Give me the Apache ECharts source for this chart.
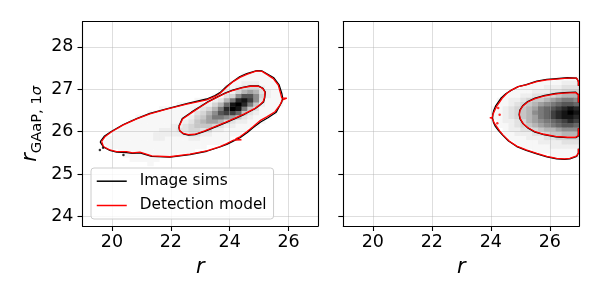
<!DOCTYPE html>
<html><head><meta charset="utf-8">
<script src="https://cdn.jsdelivr.net/npm/echarts@6/dist/echarts.min.js"></script>
<style>html,body{margin:0;padding:0;background:#fff}#c{width:600px;height:300px}</style>
</head><body><div id="c"></div>
<script>
const FONT = 'DejaVu Sans';
// ---- axes ----
const xTicks = [20, 22, 24, 26];
const yTicks = [24, 25, 26, 27, 28];
const xRange = [19, 27];
const yRange = [23.78, 28.59];

// ---- left panel density, hex levels 0..f ----
// columns: x centres 19.5 .. 25.9 step 0.2 ; each string: y centres 25.25 (first) .. 27.55 (last) step 0.1
const leftBinX0 = 19.4, leftBinY0 = 25.2, leftBinW = 0.2, leftBinH = 0.1;
const leftCols = [
"000000000000000000000000",
"000001000000000000000000",
"000011100000000000000000",
"000011110000000000000000",
"000111111000000000000000",
"001111111100000000000000",
"011111111110000000000000",
"011111111111000000000000",
"011111111111000000000000",
"111111111111100000000000",
"011111221111100000000000",
"001111222111110000000000",
"001111122111110000000000",
"001111122211110000000000",
"000111123211111000000000",
"000111123321111000000000",
"000111234432111000000000",
"000011234554321100000000",
"000011123565432100000000",
"000001124577642100000000",
"000001112479864210000000",
"000001112369b96311000000",
"000000111248cda632100000",
"000000011237cfe942110000",
"000000011125aefd84211000",
"00000000112359deb6321100",
"000000000112359cb7421100",
"000000000111235886421100",
"000000000011112343211100",
"000000000001111122111000",
"000000000000111111110000",
"000000000000001111000000",
"000000000000000000000000"
];

// ---- right panel density, hex levels 0..f ----
// rows: y centres 27.35 (first) .. 25.25 (last) step 0.1 ; each string: x centres 23.9 .. 26.9 step 0.2
const rightBinX0 = 23.8, rightBinYTop = 27.4, rightBinW = 0.2, rightBinH = 0.1;
const rightRows = [
"0000000000000000",
"0000000000001111",
"0000000011111222",
"0000001111222333",
"0000111122233444",
"0001112233445666",
"0011223455678998",
"001123456789abba",
"0112345679abcded",
"0112345689acdefe",
"0112345679acdeed",
"00122346789abcdc",
"001123456789abba",
"0001223345667888",
"0001122233455666",
"0000111222334444",
"0000011112222333",
"0000001111122222",
"0000000011111111",
"0000000000011111",
"0000000000000000",
"0000000000000000"
];

// ---- contours [r, r_GAaP] ----
const leftOuterModel = [[19.65,25.77],[19.76,25.88],[19.99,26.0],[20.39,26.16],[20.84,26.3],[21.29,26.42],[21.86,26.53],[22.54,26.65],[23.22,26.75],[23.5,26.83],[23.67,26.9],[23.9,27.05],[24.12,27.18],[24.35,27.28],[24.58,27.35],[24.92,27.43],[25.1,27.42],[25.26,27.35],[25.48,27.25],[25.65,27.1],[25.73,26.9],[25.77,26.79],[25.94,26.79],[25.78,26.74],[25.71,26.63],[25.54,26.47],[25.26,26.35],[25.03,26.26],[24.8,26.12],[24.58,26.0],[24.35,25.88],[24.2,25.83],[24.4,25.81],[24.12,25.8],[23.9,25.72],[23.67,25.65],[23.22,25.55],[22.65,25.47],[21.97,25.41],[21.35,25.43],[20.95,25.52],[20.7,25.5],[20.5,25.53],[20.16,25.53],[19.93,25.57],[19.71,25.65],[19.65,25.77]];
const leftOuterSims = [[19.6,25.76],[19.75,25.9],[19.99,26.01],[20.39,26.17],[20.84,26.31],[21.29,26.43],[21.86,26.54],[22.54,26.66],[23.22,26.77],[23.5,26.85],[23.67,26.92],[23.9,27.07],[24.12,27.19],[24.35,27.3],[24.58,27.37],[24.92,27.44],[25.1,27.43],[25.28,27.36],[25.5,27.27],[25.68,27.1],[25.77,26.9],[25.8,26.79],[25.77,26.7],[25.58,26.46],[25.3,26.33],[25.05,26.23],[24.8,26.1],[24.6,25.98],[24.35,25.86],[24.12,25.78],[23.9,25.7],[23.67,25.64],[23.22,25.54],[22.65,25.46],[21.97,25.4],[21.35,25.42],[20.95,25.5],[20.7,25.49],[20.5,25.51],[20.16,25.52],[19.93,25.56],[19.71,25.64],[19.6,25.76]];
const leftInnerModel = [[22.28,26.12],[22.4,26.3],[22.71,26.45],[23.0,26.58],[23.27,26.7],[23.55,26.8],[23.84,26.9],[24.1,26.97],[24.41,27.03],[24.7,27.07],[24.97,27.07],[25.12,27.02],[25.2,26.93],[25.18,26.8],[25.14,26.71],[25.0,26.62],[24.86,26.55],[24.5,26.42],[24.18,26.32],[23.85,26.22],[23.5,26.12],[23.15,26.02],[22.82,25.94],[22.6,25.93],[22.42,25.96],[22.3,26.03],[22.28,26.12]];
const leftInnerSims = [[22.27,26.12],[22.39,26.31],[22.7,26.46],[23.0,26.59],[23.27,26.71],[23.55,26.81],[23.84,26.91],[24.1,26.98],[24.41,27.04],[24.7,27.08],[24.97,27.08],[25.13,27.02],[25.21,26.93],[25.19,26.8],[25.15,26.7],[25.0,26.61],[24.86,26.54],[24.5,26.41],[24.18,26.31],[23.85,26.21],[23.5,26.11],[23.15,26.01],[22.82,25.93],[22.6,25.92],[22.42,25.95],[22.3,26.02],[22.27,26.12]];
const rightOuterModel = [[26.97,27.08],[26.97,27.18],[26.91,27.26],[26.6,27.26],[26.23,27.24],[25.9,27.22],[25.56,27.18],[25.2,27.1],[24.93,27.06],[24.7,26.98],[24.54,26.9],[24.4,26.8],[24.31,26.71],[24.2,26.6],[24.14,26.51],[24.08,26.42],[24.05,26.34],[23.97,26.33],[24.06,26.3],[24.12,26.2],[24.2,26.12],[24.3,26.02],[24.42,25.92],[24.62,25.78],[24.88,25.66],[25.2,25.57],[25.56,25.49],[25.9,25.42],[26.23,25.37],[26.5,25.36],[26.68,25.37],[26.91,25.43],[26.97,25.5],[26.97,25.6]];
const rightOuterSims = [[26.97,27.08],[26.97,27.18],[26.91,27.26],[26.6,27.27],[26.23,27.25],[25.9,27.23],[25.56,27.19],[25.2,27.11],[24.93,27.06],[24.7,26.98],[24.52,26.9],[24.36,26.8],[24.26,26.7],[24.16,26.6],[24.1,26.5],[24.07,26.42],[24.06,26.32],[24.09,26.22],[24.16,26.12],[24.27,26.02],[24.4,25.92],[24.6,25.78],[24.88,25.65],[25.2,25.56],[25.56,25.48],[25.9,25.41],[26.23,25.36],[26.5,25.35],[26.68,25.36],[26.91,25.42],[26.97,25.5],[26.97,25.6]];
const rightInnerModel = [[26.97,26.69],[26.97,26.87],[26.88,26.92],[26.5,26.91],[26.2,26.89],[25.8,26.84],[25.5,26.78],[25.25,26.7],[25.08,26.6],[24.99,26.5],[24.97,26.4],[25.0,26.3],[25.1,26.19],[25.25,26.1],[25.5,26.0],[25.8,25.94],[26.2,25.89],[26.6,25.87],[26.88,25.87],[26.97,25.91],[26.97,26.08]];
const rightInnerSims = [[26.97,26.69],[26.97,26.87],[26.88,26.93],[26.5,26.92],[26.2,26.9],[25.8,26.85],[25.5,26.79],[25.25,26.71],[25.08,26.61],[24.98,26.5],[24.96,26.4],[24.99,26.3],[25.09,26.19],[25.25,26.09],[25.5,25.99],[25.8,25.93],[26.2,25.88],[26.6,25.86],[26.88,25.86],[26.97,25.9],[26.97,26.08]];
const leftStraySims = [[19.59,25.57],[20.39,25.45],[19.7,25.62]];
const rightStrayModel = [[24.3,26.4],[24.25,26.56],[24.22,26.2]];

// ---- colours ----
const RED = '#ff0000';
const greysStops = ['#ffffff','#f0f0f0','#d9d9d9','#bdbdbd','#969696','#737373','#525252','#252525','#000000'];
function h2r(h){return [parseInt(h.slice(1,3),16),parseInt(h.slice(3,5),16),parseInt(h.slice(5,7),16)];}
function greys(t){
  t = Math.max(0, Math.min(1, t));
  const p = t * 8, i = Math.min(7, Math.floor(p)), f = p - i;
  const a = h2r(greysStops[i]), b = h2r(greysStops[i+1]);
  const c = a.map((v,k)=>Math.round(v + (b[k]-v)*f));
  return 'rgb(' + c.join(',') + ')';
}

// ---- build cell data ----
const leftCells = [];
leftCols.forEach((s, i) => {
  for (let j = 0; j < s.length; j++) {
    const v = parseInt(s[j], 16);
    if (v > 0) leftCells.push([leftBinX0 + leftBinW*(i+0.5), leftBinY0 + leftBinH*(j+0.5), v]);
  }
});
const rightCells = [];
rightRows.forEach((s, k) => {
  for (let i = 0; i < s.length; i++) {
    const v = parseInt(s[i], 16);
    if (v > 0) rightCells.push([rightBinX0 + rightBinW*(i+0.5), rightBinYTop - rightBinH*(k+0.5), v]);
  }
});

function cellRenderer(w, h){
  return function(params, api){
    const xc = api.value(0), yc = api.value(1), v = api.value(2);
    if (!v) return null;
    const p0 = api.coord([xc - w/2, yc + h/2]);
    const p1 = api.coord([xc + w/2, yc - h/2]);
    return {type:'rect', shape:{x:p0[0], y:p0[1], width:p1[0]-p0[0]+0.6, height:p1[1]-p0[1]+0.6},
            style:{fill:greys(v/15), stroke:null}};
  };
}

const gridLineStyle = {color:'rgba(176,176,176,0.42)', width:1};
function xMain(gi){
  return {type:'value', gridIndex:gi, min:xRange[0], max:xRange[1], z:3,
    axisLine:{show:true, onZero:false, lineStyle:{color:'#000', width:1.1}},
    axisTick:{show:true, inside:false, length:5, customValues:xTicks, lineStyle:{color:'#000', width:1.1}},
    axisLabel:{show:true, customValues:xTicks, fontSize:17.5, color:'#000', margin:7, fontFamily:FONT},
    splitLine:{show:true, lineStyle:gridLineStyle},
    name:'r', nameLocation:'middle', nameGap:31,
    nameTextStyle:{fontStyle:'italic', fontSize:21, color:'#000', fontFamily:FONT}};
}
function yMain(gi, labels){
  const o = {type:'value', gridIndex:gi, min:yRange[0], max:yRange[1], z:3,
    axisLine:{show:true, onZero:false, lineStyle:{color:'#000', width:1.1}},
    axisTick:{show:true, inside:false, length:5, customValues:yTicks, lineStyle:{color:'#000', width:1.1}},
    axisLabel:{show:labels, customValues:yTicks, fontSize:17.5, color:'#000', margin:9, fontFamily:FONT},
    splitLine:{show:true, lineStyle:gridLineStyle}};
  if (labels) {
    o.name = '{r|r}{s|GAaP, 1}{g|σ}';
    o.nameLocation = 'middle';
    o.nameGap = 38;
    o.nameTextStyle = {color:'#000', rich:{
      r:{fontSize:21, fontStyle:'italic', fontFamily:FONT, lineHeight:28, verticalAlign:'middle', color:'#000'},
      s:{fontSize:14.7, fontFamily:FONT, lineHeight:28, verticalAlign:'bottom', color:'#000'},
      g:{fontSize:14.7, fontStyle:'italic', fontFamily:FONT, lineHeight:28, verticalAlign:'bottom', color:'#000'}}};
  }
  return o;
}
function xFrame(gi){
  return {type:'value', gridIndex:gi, position:'top', min:xRange[0], max:xRange[1], z:3,
    axisLine:{show:true, onZero:false, lineStyle:{color:'#000', width:1.1}},
    axisTick:{show:false}, axisLabel:{show:false}, splitLine:{show:false}};
}
function yFrame(gi){
  return {type:'value', gridIndex:gi, position:'right', min:yRange[0], max:yRange[1], z:3,
    axisLine:{show:true, onZero:false, lineStyle:{color:'#000', width:1.1}},
    axisTick:{show:false}, axisLabel:{show:false}, splitLine:{show:false}};
}
function contour(name, data, color, gi, z){
  return {type:'line', name:name, xAxisIndex:gi, yAxisIndex:gi, data:data, symbol:'none', showSymbol:false,
    legendIcon:'none',
    smooth:false, clip:true, z:z, lineStyle:{color:color, width:1.3}, itemStyle:{color:color}};
}
function dots(data, color, gi){
  return {type:'scatter', xAxisIndex:gi, yAxisIndex:gi, data:data, symbolSize:2.5, z:5,
    itemStyle:{color:color}, silent:true};
}

const chart = echarts.init(document.getElementById('c'), null, {renderer:'canvas'});
chart.setOption({
  animation:false,
  textStyle:{fontFamily:FONT},
  grid:[
    {left:82.5, top:21.7, width:235.5, height:204.3, show:false},
    {left:343.3, top:21.7, width:236, height:204.3, show:false}
  ],
  xAxis:[xMain(0), xMain(1), xFrame(0), xFrame(1)],
  yAxis:[yMain(0,true), yMain(1,false), yFrame(0), yFrame(1)],
  legend:{left:91, top:168, orient:'vertical', data:['Image sims','Detection model'],
    itemWidth:30, itemHeight:14, itemGap:9.3, padding:[5.7,7,6,5],
    itemStyle:{opacity:0}, lineStyle:{width:1.5},
    backgroundColor:'rgba(255,255,255,0.8)', borderColor:'#cccccc', borderWidth:1, borderRadius:3,
    textStyle:{fontSize:15.3, color:'#000', fontFamily:FONT, padding:[0,0,0,8]}, z:10},
  series:[
    {type:'custom', xAxisIndex:0, yAxisIndex:0, renderItem:cellRenderer(leftBinW,leftBinH), data:leftCells,
      encode:{x:0, y:1}, clip:true, z:1, silent:true},
    {type:'custom', xAxisIndex:1, yAxisIndex:1, renderItem:cellRenderer(rightBinW,rightBinH), data:rightCells,
      encode:{x:0, y:1}, clip:true, z:1, silent:true},
    contour('Image sims', leftOuterSims, '#000000', 0, 4),
    contour('Image sims', leftInnerSims, '#000000', 0, 4),
    contour('Image sims', rightOuterSims, '#000000', 1, 4),
    contour('Image sims', rightInnerSims, '#000000', 1, 4),
    dots(leftStraySims, '#000000', 0),
    contour('Detection model', leftOuterModel, RED, 0, 5),
    contour('Detection model', leftInnerModel, RED, 0, 5),
    contour('Detection model', rightOuterModel, RED, 1, 5),
    contour('Detection model', rightInnerModel, RED, 1, 5),
    dots(rightStrayModel, RED, 1)
  ]
});
</script>
</body></html>
